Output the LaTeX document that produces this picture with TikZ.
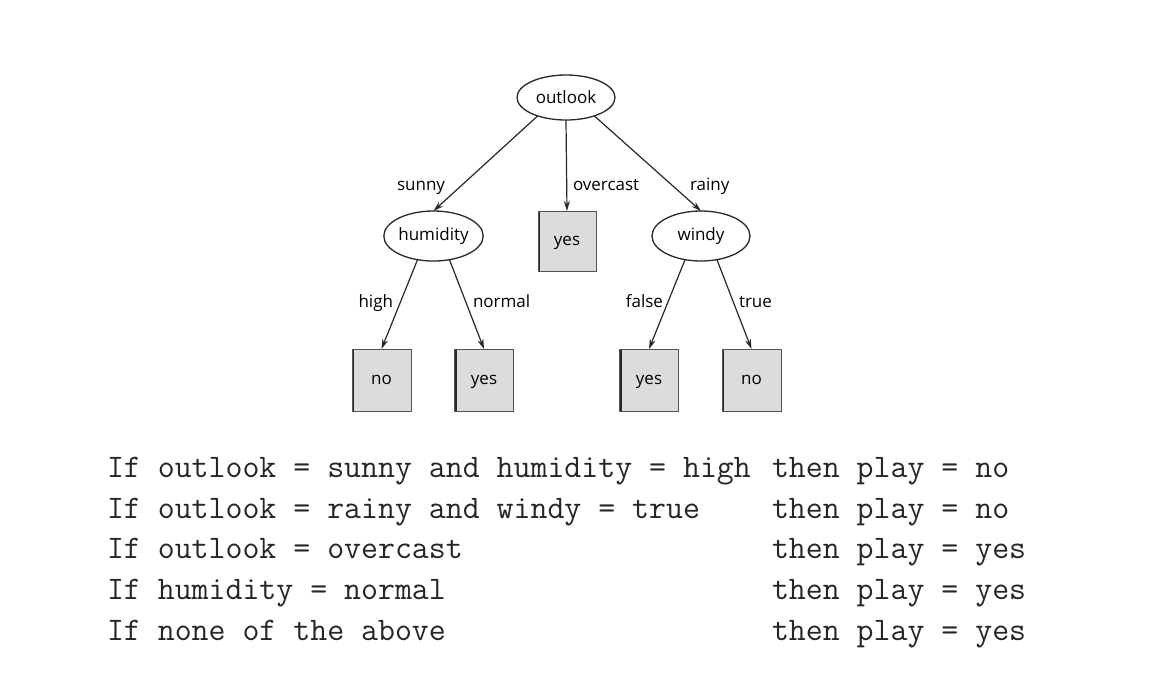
\documentclass[tikz,border=0pt]{standalone}
\usepackage{fontspec}
\newfontfamily\treefont{Open Sans}
\usetikzlibrary{shapes.geometric,arrows.meta}
\definecolor{boxfill}{RGB}{220,220,220}
\definecolor{linecol}{RGB}{40,40,40}
\begin{document}
\begin{tikzpicture}[x=0.5pt,y=-0.5pt,
  every node/.style={inner sep=0pt, outer sep=0pt},
  tfont/.style={font=\treefont\fontsize{8.5}{10}\selectfont},
  decision/.style={ellipse, draw=linecol, line width=0.65pt, minimum width=49pt, minimum height=25pt, tfont, text height=1ex, text depth=0pt},
  leaf/.style={rectangle, draw=linecol!80, fill=boxfill, line width=0.5pt,
    minimum width=29.5pt, minimum height=31pt, tfont, text height=1ex, text depth=0pt,
    path picture={\draw[line width=2pt, linecol] (path picture bounding box.north west) -- (path picture bounding box.south west);}},
  branch/.style={-{Stealth[length=5pt,width=3pt]}, line width=0.6pt, draw=linecol},
  lbl/.style={tfont},
  rule/.style={font=\ttfamily\fontsize{16.45}{18}\selectfont, text=black!85, anchor=base west}
]
\path[use as bounding box, fill=white] (0,0) rectangle (1169,682);

% tree nodes
\node[decision, minimum height=22.5pt, text height=1.4ex] (outlook) at (566,97.5) {outlook};
\node[decision] (humidity) at (433.5,236) {humidity};
\node[decision] (windy) at (701,236) {windy};
\node[leaf, minimum width=29pt, minimum height=30pt] (yes1) at (567,241) {yes};
\node[leaf] (no1) at (381.5,380) {no};
\node[leaf] (yes2) at (484,380) {yes};
\node[leaf] (yes3) at (649,380) {yes};
\node[leaf] (no2) at (751.5,380) {no};

% connectors
\draw[branch] (outlook.213) -- (humidity.north);
\draw[branch] (outlook.south) -- (yes1.north);
\draw[branch] (outlook.327) -- (windy.north);
\draw[branch] (humidity.236) -- (no1.north);
\draw[branch] (humidity.304) -- (yes2.north);
\draw[branch] (windy.236) -- (yes3.north);
\draw[branch] (windy.304) -- (no2.north);

% branch labels
\node[lbl, anchor=base east] (lsunny) at (445,190) {sunny};
\node[lbl, anchor=base west] (lover) at (573,190) {overcast};
\node[lbl, anchor=base west] (lrainy) at (690,190) {rainy};
\node[lbl, anchor=base east] (lhigh) at (393,307) {high};
\node[lbl, anchor=base west] (lnormal) at (473,307) {normal};
\node[lbl, anchor=base east] (lfalse) at (663,307) {false};
\node[lbl, anchor=base west] (ltrue) at (739,307) {true};

% rules
\node[rule] (r1a) at (107,477) {If outlook = sunny and humidity = high};
\node[rule] (r1b) at (772,477) {then play = no};
\node[rule] (r2a) at (107,518) {If outlook = rainy and windy = true};
\node[rule] (r2b) at (772,518) {then play = no};
\node[rule] (r3a) at (107,558) {If outlook = overcast};
\node[rule] (r3b) at (772,558) {then play = yes};
\node[rule] (r4a) at (107,599) {If humidity = normal};
\node[rule] (r4b) at (772,599) {then play = yes};
\node[rule] (r5a) at (107,640) {If none of the above};
\node[rule] (r5b) at (772,640) {then play = yes};
\end{tikzpicture}
\end{document}
